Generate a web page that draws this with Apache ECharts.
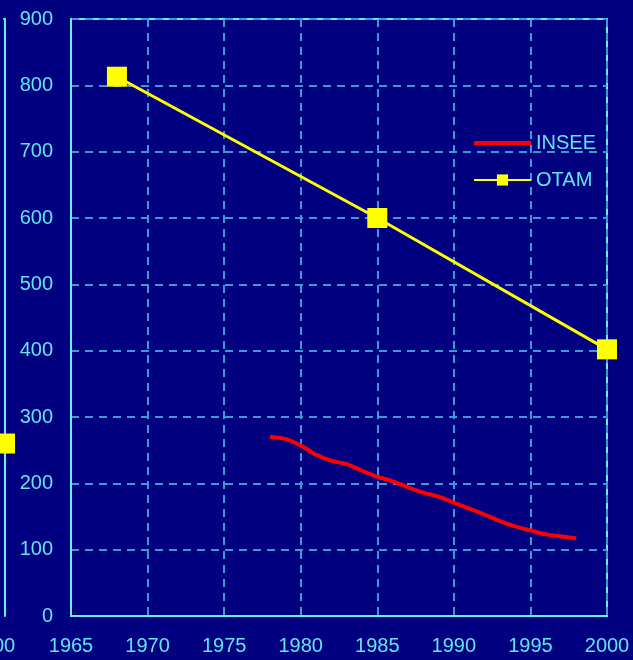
<!DOCTYPE html>
<html>
<head>
<meta charset="utf-8">
<script src="https://cdn.jsdelivr.net/npm/echarts@6/dist/echarts.min.js"></script>
<style>
html,body{margin:0;padding:0;background:#000080;}
#c{width:633px;height:660px;}
</style>
</head>
<body>
<div id="c"></div>
<script>
const inseeYears = [1978,1979,1980,1981,1982,1983,1984,1985,1986,1987,1988,1989,1990,1991,1992,1993,1994,1995,1996,1997,1998];
const inseeValues = [270,267,257,243,234,229,219,210,203,194,186,180,171,162,153,143,135,129,123,120,117];
const otamYears = [1968,1985,2000];
const otamValues = [813,600,402];
const leftYears = [2000];
const leftValues = [260];
const xTicks = {min:1965, max:2000, interval:5};
const yTicks = {min:0, max:900, interval:100};

const txt = '#5fe6f0';
const border = '#66f0f5';
const gridCol = '#3a9bd2';
const font = 'Liberation Sans';

function pairs(xs, ys){ return xs.map((x,i)=>[x, ys[i]]); }
const plain = v => String(v);

const chart = echarts.init(document.getElementById('c'), null, {renderer:'canvas'});

chart.setOption({
  backgroundColor:'#000080',
  animation:false,
  grid:[
    {left:71, right:26, top:19, bottom:44, show:true, borderColor:border, borderWidth:2},
    {left:0, width:4, top:19, bottom:44, show:false}
  ],
  xAxis:[
    {type:'value', gridIndex:0, min:xTicks.min, max:xTicks.max, interval:xTicks.interval,
     axisLine:{show:true, lineStyle:{color:border, width:2}},
     axisTick:{show:false},
     axisLabel:{color:txt, fontSize:20, fontFamily:font, margin:20, formatter:plain},
     splitLine:{show:true, lineStyle:{color:gridCol, type:[8,6], width:2}}},
    {type:'value', gridIndex:1, min:1999, max:2000, interval:1, position:'bottom',
     axisLine:{show:false}, axisTick:{show:false},
     axisLabel:{color:txt, fontSize:20, fontFamily:font, margin:20, formatter:plain, showMinLabel:false, padding:[0,24,0,0]},
     splitLine:{show:false}},
    {type:'value', gridIndex:1, min:1999, max:2000, interval:1, position:'top',
     axisLine:{show:true, onZero:false, lineStyle:{color:border, width:2}}, axisTick:{show:false},
     axisLabel:{show:false}, splitLine:{show:false}}
  ],
  yAxis:[
    {type:'value', gridIndex:0, min:yTicks.min, max:yTicks.max, interval:yTicks.interval,
     axisLine:{show:true, lineStyle:{color:border, width:2}},
     axisTick:{show:false},
     axisLabel:{color:txt, fontSize:20, fontFamily:font, margin:18},
     splitLine:{show:true, lineStyle:{color:gridCol, type:[8,6], width:2}}},
    {type:'value', gridIndex:1, min:yTicks.min, max:yTicks.max, interval:yTicks.interval, position:'right',
     axisLine:{show:true, onZero:false, lineStyle:{color:border, width:2}},
     axisTick:{show:false}, axisLabel:{show:false}, splitLine:{show:false}}
  ],
  legend:{
    left:473, top:133, orient:'vertical', itemWidth:57, itemHeight:14, itemGap:17, padding:0,
    textStyle:{color:txt, fontSize:20, fontFamily:font},
    data:[{name:'INSEE', icon:'path://M0,0M0,14M0,5H57V9H0Z'}, 'OTAM']
  },
  series:[
    {name:'INSEE', type:'line', xAxisIndex:0, yAxisIndex:0, data:pairs(inseeYears, inseeValues),
     smooth:0.3, showSymbol:false, symbol:'none', lineStyle:{color:'#ff0000', width:4}, itemStyle:{color:'#ff0000'}},
    {name:'OTAM', type:'line', xAxisIndex:0, yAxisIndex:0, data:pairs(otamYears, otamValues),
     symbol:'rect', symbolSize:20, lineStyle:{color:'#ffff00', width:3}, itemStyle:{color:'#ffff00'}},
    {name:'left', type:'line', xAxisIndex:1, yAxisIndex:1, data:pairs(leftYears, leftValues),
     symbol:'rect', symbolSize:20, lineStyle:{color:'#ffff00', width:3}, itemStyle:{color:'#ffff00'}}
  ]
});
</script>
</body>
</html>
